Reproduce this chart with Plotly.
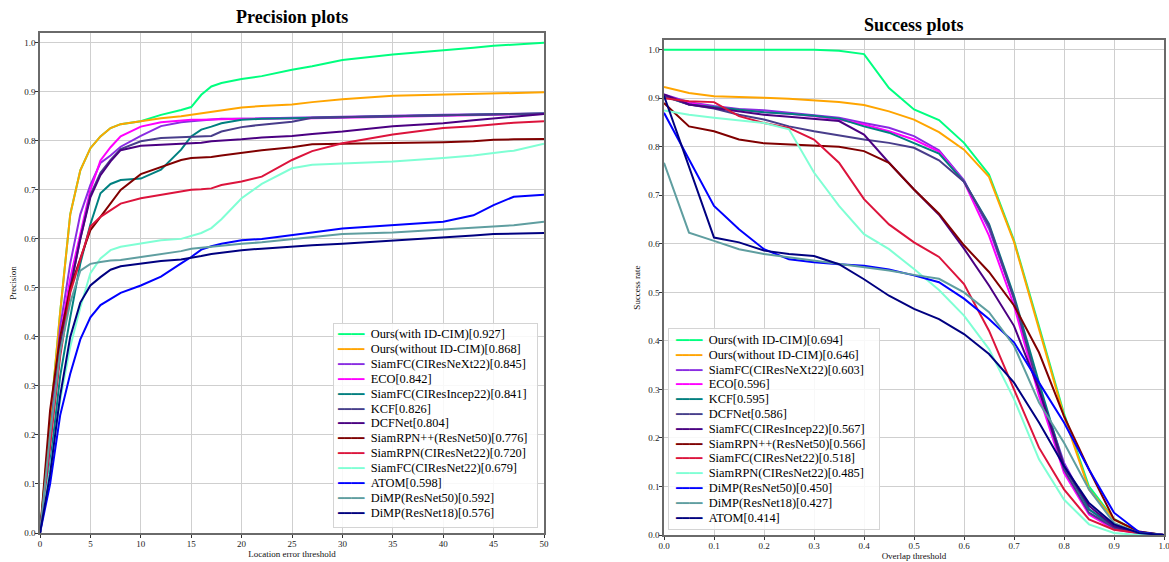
import plotly.graph_objects as go

# ---------------- Precision plot data ----------------
prec_thresholds = [0, 1, 2, 3, 4, 5, 6, 7, 8, 10, 12, 14, 15, 16, 17, 18, 20, 22, 25, 27, 30, 35, 40, 43, 45, 47, 50]

p_ours_with = [0, 0.22, 0.45, 0.65, 0.74, 0.785, 0.809, 0.826, 0.834, 0.84, 0.853, 0.863, 0.869, 0.894, 0.911,
               0.918, 0.926, 0.932, 0.945, 0.952, 0.965, 0.976, 0.984, 0.99, 0.994, 0.997, 1.0]
p_ours_without = [0, 0.22, 0.45, 0.65, 0.74, 0.785, 0.809, 0.826, 0.834, 0.84, 0.846, 0.850, 0.853, 0.855, 0.858,
                  0.862, 0.868, 0.871, 0.874, 0.879, 0.885, 0.892, 0.894, 0.896, 0.897, 0.898, 0.899]
p_siamfc_resnext22 = [0, 0.19, 0.42, 0.55, 0.65, 0.71, 0.755, 0.77, 0.788, 0.81, 0.83, 0.838, 0.84, 0.842, 0.844,
                      0.845, 0.845, 0.846, 0.847, 0.848, 0.849, 0.851, 0.853, 0.854, 0.855, 0.855, 0.856]
p_eco = [0, 0.18, 0.40, 0.52, 0.61, 0.70, 0.76, 0.787, 0.809, 0.829, 0.838, 0.842, 0.843, 0.843, 0.844,
         0.844, 0.845, 0.845, 0.846, 0.846, 0.847, 0.849, 0.851, 0.852, 0.853, 0.854, 0.855]
p_siamfc_incep22 = [0, 0.14, 0.32, 0.44, 0.55, 0.63, 0.693, 0.712, 0.72, 0.723, 0.741, 0.782, 0.809, 0.823, 0.829,
                    0.836, 0.843, 0.845, 0.846, 0.847, 0.848, 0.850, 0.852, 0.853, 0.854, 0.855, 0.856]
p_kcf = [0, 0.2, 0.38, 0.5, 0.6, 0.69, 0.735, 0.761, 0.783, 0.799, 0.806, 0.808, 0.809, 0.810, 0.81,
         0.819, 0.828, 0.833, 0.839, 0.847, 0.848, 0.85, 0.852, 0.853, 0.854, 0.855, 0.856]
p_dcfnet = [0, 0.18, 0.37, 0.5, 0.6, 0.685, 0.73, 0.758, 0.781, 0.79, 0.792, 0.793, 0.794, 0.796, 0.799,
            0.80, 0.803, 0.807, 0.81, 0.814, 0.819, 0.83, 0.836, 0.842, 0.846, 0.85, 0.855]
p_siamrpnpp = [0, 0.25, 0.4, 0.5, 0.56, 0.618, 0.645, 0.672, 0.70, 0.732, 0.747, 0.761, 0.765, 0.766, 0.767,
               0.770, 0.776, 0.781, 0.787, 0.793, 0.794, 0.795, 0.797, 0.799, 0.802, 0.803, 0.804]
p_siamrpn_resnet22 = [0, 0.18, 0.36, 0.49, 0.56, 0.625, 0.645, 0.659, 0.672, 0.683, 0.69, 0.698, 0.70, 0.701, 0.703,
                      0.71, 0.717, 0.727, 0.761, 0.779, 0.795, 0.813, 0.826, 0.83, 0.834, 0.837, 0.84]
p_siamfc_resnet22 = [0, 0.13, 0.27, 0.38, 0.46, 0.53, 0.56, 0.577, 0.584, 0.59, 0.597, 0.60, 0.606, 0.612, 0.622,
                     0.64, 0.683, 0.712, 0.744, 0.751, 0.754, 0.758, 0.765, 0.77, 0.775, 0.78, 0.794]
p_atom = [0, 0.1, 0.24, 0.325, 0.395, 0.44, 0.465, 0.478, 0.49, 0.505, 0.523, 0.55, 0.563, 0.578, 0.585,
          0.59, 0.597, 0.60, 0.607, 0.613, 0.621, 0.628, 0.635, 0.648, 0.669, 0.686, 0.69]
p_dimp50 = [0, 0.2, 0.37, 0.47, 0.535, 0.549, 0.553, 0.556, 0.557, 0.563, 0.568, 0.575, 0.58, 0.582, 0.584,
            0.587, 0.59, 0.593, 0.599, 0.604, 0.61, 0.613, 0.619, 0.622, 0.625, 0.628, 0.635]
p_dimp18 = [0, 0.12, 0.28, 0.40, 0.47, 0.505, 0.522, 0.537, 0.544, 0.549, 0.555, 0.558, 0.561, 0.565, 0.569,
            0.572, 0.577, 0.58, 0.585, 0.587, 0.59, 0.596, 0.603, 0.607, 0.61, 0.611, 0.612]

prec_names = ["Ours(with ID-CIM)[0.927]", "Ours(without ID-CIM)[0.868]", "SiamFC(CIResNeXt22)[0.845]",
              "ECO[0.842]", "SiamFC(CIResIncep22)[0.841]", "KCF[0.826]", "DCFNet[0.804]",
              "SiamRPN++(ResNet50)[0.776]", "SiamRPN(CIResNet22)[0.720]", "SiamFC(CIResNet22)[0.679]",
              "ATOM[0.598]", "DiMP(ResNet50)[0.592]", "DiMP(ResNet18)[0.576]"]
prec_colors = ["#00FF7F", "#FFA500", "#8A2BE2", "#FF00FF", "#008080", "#483D8B", "#4B0082",
               "#800000", "#DC143C", "#7FFFD4", "#0000FF", "#5F9EA0", "#000080"]
prec_series = [p_ours_with, p_ours_without, p_siamfc_resnext22, p_eco, p_siamfc_incep22, p_kcf, p_dcfnet,
               p_siamrpnpp, p_siamrpn_resnet22, p_siamfc_resnet22, p_atom, p_dimp50, p_dimp18]

# ---------------- Success plot data ----------------
succ_thresholds = [0.0, 0.05, 0.1, 0.15, 0.2, 0.25, 0.3, 0.35, 0.4, 0.45, 0.5,
                   0.55, 0.6, 0.65, 0.7, 0.75, 0.8, 0.85, 0.9, 0.95, 1.0]

s_ours_with = [1.0, 1.0, 1.0, 1.0, 1.0, 1.0, 1.0, 0.998, 0.991, 0.921, 0.877,
               0.855, 0.808, 0.743, 0.607, 0.43, 0.25, 0.10, 0.033, 0.006, 0.0]
s_ours_without = [0.923, 0.911, 0.904, 0.903, 0.901, 0.899, 0.895, 0.892, 0.886, 0.873, 0.856,
                  0.830, 0.794, 0.738, 0.604, 0.425, 0.245, 0.094, 0.032, 0.006, 0.0]
s_siamfc_resnext22 = [0.908, 0.892, 0.884, 0.878, 0.875, 0.870, 0.866, 0.860, 0.849, 0.839, 0.822,
                      0.793, 0.731, 0.631, 0.487, 0.30, 0.149, 0.053, 0.015, 0.003, 0.0]
s_eco = [0.905, 0.890, 0.882, 0.877, 0.871, 0.868, 0.863, 0.856, 0.846, 0.832, 0.815,
         0.790, 0.728, 0.617, 0.473, 0.287, 0.128, 0.042, 0.012, 0.003, 0.0]
s_kcf = [0.904, 0.887, 0.882, 0.877, 0.871, 0.868, 0.864, 0.858, 0.842, 0.829, 0.808,
         0.786, 0.728, 0.641, 0.493, 0.314, 0.142, 0.053, 0.018, 0.003, 0.0]
s_dcfnet = [0.904, 0.887, 0.879, 0.866, 0.856, 0.842, 0.832, 0.823, 0.815, 0.808, 0.798,
            0.772, 0.728, 0.638, 0.487, 0.30, 0.135, 0.046, 0.015, 0.003, 0.0]
s_siamfc_incep22 = [0.908, 0.887, 0.880, 0.873, 0.866, 0.862, 0.858, 0.853, 0.825, 0.767, 0.712,
                    0.660, 0.590, 0.514, 0.431, 0.30, 0.142, 0.06, 0.018, 0.004, 0.0]
s_siamrpnpp = [0.890, 0.842, 0.832, 0.815, 0.807, 0.805, 0.803, 0.800, 0.791, 0.767, 0.712,
               0.662, 0.597, 0.542, 0.473, 0.376, 0.245, 0.135, 0.032, 0.007, 0.0]
s_siamfc_resnet22 = [0.90, 0.894, 0.892, 0.863, 0.849, 0.839, 0.815, 0.767, 0.692, 0.64, 0.603,
                     0.573, 0.517, 0.421, 0.30, 0.18, 0.094, 0.032, 0.011, 0.004, 0.0]
s_siamrpn_resnet22 = [0.875, 0.866, 0.860, 0.855, 0.849, 0.836, 0.747, 0.678, 0.62, 0.589, 0.548,
                      0.505, 0.452, 0.383, 0.28, 0.156, 0.073, 0.022, 0.004, 0.0, 0.0]
s_dimp50 = [0.87, 0.775, 0.678, 0.63, 0.589, 0.568, 0.562, 0.558, 0.555, 0.547, 0.535,
            0.521, 0.487, 0.445, 0.397, 0.314, 0.232, 0.135, 0.046, 0.006, 0.0]
s_dimp18 = [0.767, 0.623, 0.606, 0.589, 0.579, 0.572, 0.565, 0.558, 0.551, 0.545, 0.536,
            0.528, 0.50, 0.459, 0.39, 0.273, 0.19, 0.094, 0.025, 0.004, 0.0]
s_atom = [0.905, 0.76, 0.613, 0.603, 0.586, 0.579, 0.575, 0.558, 0.527, 0.493, 0.466,
          0.445, 0.414, 0.373, 0.314, 0.232, 0.142, 0.066, 0.022, 0.004, 0.0]

succ_names = ["Ours(with ID-CIM)[0.694]", "Ours(without ID-CIM)[0.646]", "SiamFC(CIResNeXt22)[0.603]",
              "ECO[0.596]", "KCF[0.595]", "DCFNet[0.586]", "SiamFC(CIResIncep22)[0.567]",
              "SiamRPN++(ResNet50)[0.566]", "SiamFC(CIResNet22)[0.518]", "SiamRPN(CIResNet22)[0.485]",
              "DiMP(ResNet50)[0.450]", "DiMP(ResNet18)[0.427]", "ATOM[0.414]"]
succ_colors = ["#00FF7F", "#FFA500", "#8A2BE2", "#FF00FF", "#008080", "#483D8B", "#4B0082",
               "#800000", "#DC143C", "#7FFFD4", "#0000FF", "#5F9EA0", "#000080"]
succ_series = [s_ours_with, s_ours_without, s_siamfc_resnext22, s_eco, s_kcf, s_dcfnet, s_siamfc_incep22,
               s_siamrpnpp, s_siamfc_resnet22, s_siamrpn_resnet22, s_dimp50, s_dimp18, s_atom]

FONT = "Liberation Serif"
W, H = 1169, 562

fig = go.Figure()
for name, color, ys in zip(prec_names, prec_colors, prec_series):
    fig.add_trace(go.Scatter(x=prec_thresholds, y=ys, mode="lines", name=name,
                             line=dict(color=color, width=2), xaxis="x", yaxis="y", showlegend=False))
for name, color, ys in zip(succ_names, succ_colors, succ_series):
    fig.add_trace(go.Scatter(x=succ_thresholds, y=ys, mode="lines", name=name,
                             line=dict(color=color, width=2), xaxis="x2", yaxis="y2", showlegend=False))


def legend_annotations(names, colors, box_left, box_top, box_w, box_h, row_left, first_row, pitch):
    """Matplotlib-style legend: a framed box plus one text row per series (pixel layout)."""
    anns = [dict(text=" ", xref="paper", yref="paper", x=box_left / W, y=1 - box_top / H,
                 xanchor="left", yanchor="top", showarrow=False, width=box_w, height=box_h,
                 bgcolor="rgba(255,255,255,0.85)", bordercolor="#d4d4d4", borderwidth=1, borderpad=0)]
    for i, (n, c) in enumerate(zip(names, colors)):
        yc = first_row + i * pitch
        anns.append(dict(
            text=(f"<span style='color:{c};font-family:DejaVu Sans Mono;font-size:11px'>━━━━</span>"
                  f"&nbsp;&nbsp;{n}"),
            xref="paper", yref="paper", x=row_left / W, y=1 - yc / H,
            xanchor="left", yanchor="middle", align="left", showarrow=False, borderpad=0,
            font=dict(family=FONT, size=12.4, color="black")))
    return anns


axis_common = dict(showgrid=True, gridcolor="#cfcfcf", gridwidth=1, showline=True, mirror=True,
                   linecolor="#6a6a6a", linewidth=1.5, ticks="outside", ticklen=3, tickcolor="#333333",
                   ticklabelstandoff=-2, ticklabeloverflow="allow",
                   tickfont=dict(family=FONT, size=9, color="#222222"), zeroline=False, automargin=False)

annotations = [
    dict(text="<b>Precision plots</b>", xref="paper", yref="paper", x=292 / W, y=1 - 17 / H,
         xanchor="center", yanchor="middle", showarrow=False, font=dict(family=FONT, size=18, color="black")),
    dict(text="<b>Success plots</b>", xref="paper", yref="paper", x=914 / W, y=1 - 25 / H,
         xanchor="center", yanchor="middle", showarrow=False, font=dict(family=FONT, size=18, color="black")),
]
annotations += legend_annotations(prec_names, prec_colors, 333, 323, 203, 203, 336, 334, 14.9)
annotations += legend_annotations(succ_names, succ_colors, 668, 328, 210, 200, 674, 340, 14.8)

fig.update_layout(
    width=W, height=H,
    margin=dict(l=0, r=0, t=0, b=0, autoexpand=False),
    paper_bgcolor="white", plot_bgcolor="white",
    font=dict(family=FONT, color="#111111"),
    xaxis=dict(domain=[40 / W, 544 / W], range=[0, 50], tick0=0, dtick=5, anchor="y",
               title=dict(text="Location error threshold", font=dict(family=FONT, size=9), standoff=1),
               **axis_common),
    yaxis=dict(domain=[29 / H, 529 / H], range=[0, 1.02], tick0=0, dtick=0.1, tickformat=".1f", anchor="x",
               title=dict(text="Precision", font=dict(family=FONT, size=9), standoff=6),
               **axis_common),
    xaxis2=dict(domain=[664 / W, 1164 / W], range=[0, 1], tick0=0, dtick=0.1, tickformat=".1f", anchor="y2",
                title=dict(text="Overlap threshold", font=dict(family=FONT, size=9), standoff=1),
                **axis_common),
    yaxis2=dict(domain=[27 / H, 522 / H], range=[0, 1.02], tick0=0, dtick=0.1, tickformat=".1f", anchor="x2",
                title=dict(text="Success rate", font=dict(family=FONT, size=9), standoff=6),
                **axis_common),
    annotations=annotations,
)

fig.write_html("out.html")
